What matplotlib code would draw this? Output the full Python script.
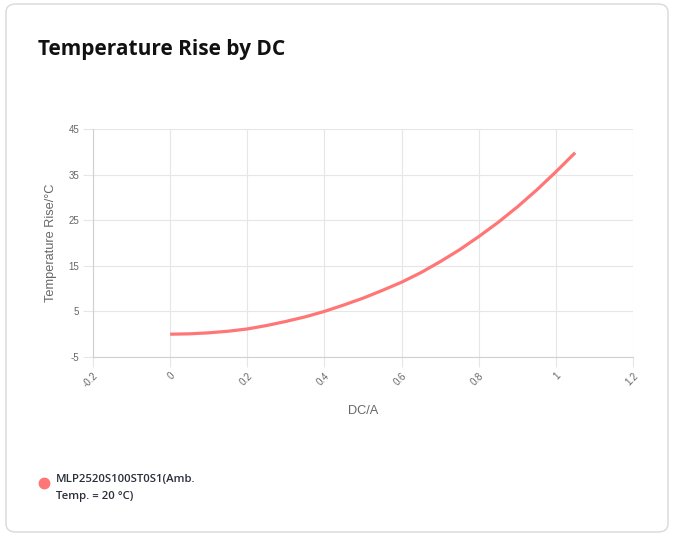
import matplotlib.pyplot as plt
from matplotlib.patches import FancyBboxPatch
from matplotlib.lines import Line2D

plt.rcParams['axes.unicode_minus'] = False

# data
dc_current = [0.0, 0.05, 0.1, 0.15, 0.2, 0.25, 0.3, 0.35, 0.4, 0.45, 0.5,
              0.55, 0.6, 0.65, 0.7, 0.75, 0.8, 0.85, 0.9, 0.95, 1.0, 1.05]
temp_rise = [0.0, 0.08, 0.3, 0.65, 1.15, 1.9, 2.8, 3.8, 5.0, 6.4, 7.9,
             9.6, 11.4, 13.5, 15.9, 18.5, 21.4, 24.5, 27.9, 31.6, 35.6, 39.8]
x_ticks = [-0.2, 0, 0.2, 0.4, 0.6, 0.8, 1, 1.2]
x_tick_labels = ['-0.2', '0', '0.2', '0.4', '0.6', '0.8', '1', '1.2']
y_ticks = [-5, 5, 15, 25, 35, 45]
series_name = 'MLP2520S100ST0S1(Amb.\nTemp. = 20 °C)'

line_color = '#ff7676'
grid_color = '#e6e6e6'
text_grey = '#666666'

fig = plt.figure(figsize=(6.78, 5.36), dpi=100)
fig.patch.set_facecolor('white')

# card outline (behind everything)
card = FancyBboxPatch((6 / 678, 4 / 536), 662 / 678, 528 / 536,
                      boxstyle='round,pad=0,rounding_size=0.015',
                      transform=fig.transFigure, facecolor='none',
                      edgecolor='#d9d9d9', linewidth=1.0, zorder=-5)
fig.patches.append(card)

fig.text(38 / 678, 1 - 50 / 536, 'Temperature Rise by DC', fontsize=15,
         fontweight='bold', family='Open Sans', color='#111111', va='center')

ax = fig.add_axes([93 / 678, 1 - 357 / 536, 540 / 678, 228 / 536])
ax.set_facecolor('none')
ax.plot(dc_current, temp_rise, color=line_color, linewidth=2.3,
        solid_capstyle='butt', solid_joinstyle='round')

ax.set_xlim(-0.2, 1.2)
ax.set_ylim(-5, 45)
ax.set_xticks(x_ticks)
ax.set_xticklabels(x_tick_labels, rotation=45, ha='right', va='top',
                   rotation_mode='anchor')
ax.set_yticks(y_ticks)

ax.grid(True, color=grid_color, linewidth=0.8)
ax.set_axisbelow(True)
for side in ['top', 'right']:
    ax.spines[side].set_visible(False)
ax.spines['left'].set_color('#d0d0d0')
ax.spines['bottom'].set_color('#d0d0d0')
ax.tick_params(axis='both', length=7, width=0.8, color=grid_color,
               labelsize=7, labelcolor=text_grey, pad=3)
for lbl in ax.get_xticklabels() + ax.get_yticklabels():
    lbl.set_family('Liberation Sans')

ax.set_xlabel('DC/A', fontsize=9.2, color=text_grey, family='Liberation Sans',
              labelpad=11)
ax.set_ylabel('Temperature Rise/°C', fontsize=9.2, color=text_grey,
              family='Liberation Sans', labelpad=8)

# legend drawn in figure space
fig.add_artist(Line2D([44 / 678], [1 - 483 / 536], marker='o', markersize=7.5,
                      color=line_color, linestyle='none',
                      transform=fig.transFigure))
fig.text(56 / 678, 1 - 474 / 536, series_name, fontsize=8.2,
         fontweight='semibold', family='Open Sans', color='#2b2f3a',
         va='top', linespacing=1.7)

fig.savefig('out.png', dpi=100)
